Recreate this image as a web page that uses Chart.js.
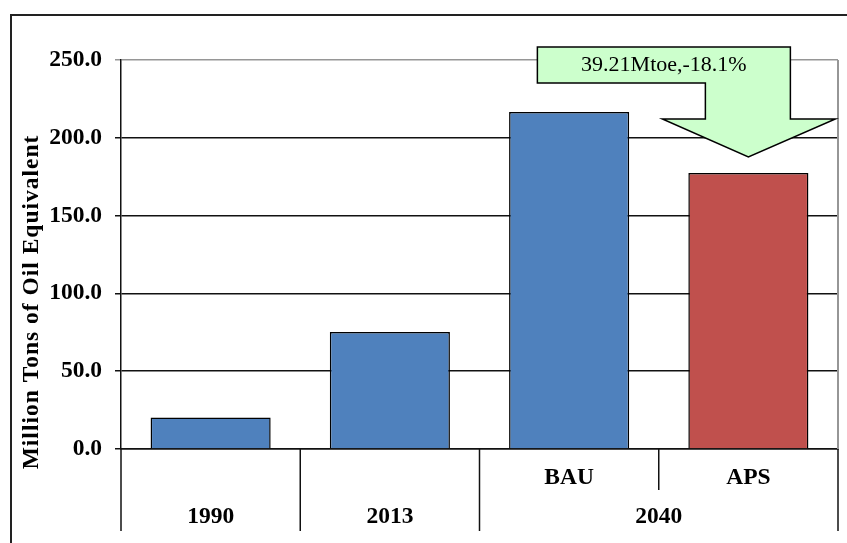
<!DOCTYPE html>
<html>
<head>
<meta charset="utf-8">
<script src="https://cdn.jsdelivr.net/npm/chart.js@4/dist/chart.umd.min.js"></script>
<style>
  html, body { margin: 0; padding: 0; background: #ffffff; }
  #wrap { width: 847px; height: 543px; }
</style>
</head>
<body>
<div id="wrap"><canvas id="chart" width="847" height="543"></canvas></div>
<script>
// Oil demand, million tons of oil equivalent
const years = ['1990', '2013', '2040', '2040'];
const scenarios = ['', '', 'BAU', 'APS'];
const consumption = [20.3, 75.2, 216.63, 177.42];
const barColors = ['#4F81BD', '#4F81BD', '#4F81BD', '#C0504D'];
const yTickValues = [0, 50, 100, 150, 200, 250];
const yTitle = 'Million Tons of Oil Equivalent';

const SERIF = '"Liberation Serif", "Times New Roman", serif';
const LABEL_SIZE = 23.5;

// Saving of APS against BAU in 2040
const saving = consumption[2] - consumption[3];
const savingPct = saving / consumption[2] * 100;
const savingLabel = saving.toFixed(2) + 'Mtoe,-' + savingPct.toFixed(1) + '%';

const framePlugin = {
  id: 'frame',
  beforeDraw(chart) {
    const ctx = chart.ctx;
    ctx.save();
    ctx.fillStyle = '#ffffff';
    ctx.fillRect(0, 0, chart.width, chart.height);
    ctx.strokeStyle = '#222222';
    ctx.lineWidth = 2;
    ctx.strokeRect(11, 15, chart.width + 20, chart.height + 20);
    ctx.restore();
  },
  afterDraw(chart) {
    const ctx = chart.ctx;
    const x = chart.scales.x;
    const y = chart.scales.y;
    const a = chart.chartArea;
    ctx.save();

    // right edge of the plot area
    ctx.strokeStyle = '#969696';
    ctx.lineWidth = 2;
    ctx.beginPath();
    ctx.moveTo(a.right, a.top);
    ctx.lineTo(a.right, a.bottom);
    ctx.stroke();

    // category dividers below the axis
    const n = years.length;
    const bounds = [];
    for (let i = 0; i <= n; i++) {
      let px;
      if (i === 0) px = a.left;
      else if (i === n) px = a.right;
      else px = (x.getPixelForValue(i - 1) + x.getPixelForValue(i)) / 2;
      const short = i > 0 && i < n && years[i - 1] === years[i];
      bounds.push({ px, short });
    }
    ctx.strokeStyle = '#111111';
    ctx.lineWidth = 1.5;
    bounds.forEach(b => {
      ctx.beginPath();
      ctx.moveTo(b.px, a.bottom);
      ctx.lineTo(b.px, b.short ? a.bottom + 41 : a.bottom + 82);
      ctx.stroke();
    });

    // year group labels
    ctx.fillStyle = '#000000';
    ctx.font = 'bold ' + LABEL_SIZE + 'px ' + SERIF;
    ctx.textAlign = 'center';
    ctx.textBaseline = 'middle';
    let start = 0;
    for (let i = 1; i <= n; i++) {
      if (i === n || years[i] !== years[start]) {
        const cx = (x.getPixelForValue(start) + x.getPixelForValue(i - 1)) / 2;
        ctx.fillText(years[start], cx, a.bottom + 68);
        start = i;
      }
    }

    // vertical axis title
    ctx.save();
    ctx.translate(32, 302);
    ctx.rotate(-Math.PI / 2);
    ctx.font = 'bold ' + LABEL_SIZE + 'px ' + SERIF;
    if ('letterSpacing' in ctx) ctx.letterSpacing = '1px';
    ctx.textAlign = 'center';
    ctx.textBaseline = 'middle';
    ctx.fillText(yTitle, 0, 0);
    ctx.restore();

    // arrow callout pointing at the APS bar
    const tipX = x.getPixelForValue(3);
    const tipY = y.getPixelForValue(consumption[3]) - 16;
    const pts = [
      [-211, -110], [42, -110], [42, -38], [87, -38],
      [0, 0], [-86, -38], [-43, -38], [-43, -74], [-211, -74]
    ];
    ctx.beginPath();
    pts.forEach((p, k) => {
      const px = tipX + p[0], py = tipY + p[1];
      if (k === 0) ctx.moveTo(px, py); else ctx.lineTo(px, py);
    });
    ctx.closePath();
    ctx.fillStyle = '#CCFFCC';
    ctx.fill();
    ctx.strokeStyle = '#000000';
    ctx.lineWidth = 1.5;
    ctx.stroke();

    ctx.fillStyle = '#000000';
    ctx.font = '22px ' + SERIF;
    ctx.textAlign = 'center';
    ctx.textBaseline = 'middle';
    ctx.fillText(savingLabel, tipX + (-211 + 42) / 2, tipY - 92);

    ctx.restore();
  }
};

new Chart(document.getElementById('chart'), {
  type: 'bar',
  data: {
    labels: scenarios.map((s, i) => years[i] + (s ? ' ' + s : '')),
    datasets: [{
      data: consumption,
      backgroundColor: barColors,
      borderColor: '#000000',
      borderWidth: 1.5,
      barPercentage: 1.0,
      categoryPercentage: 0.67
    }]
  },
  options: {
    responsive: false,
    animation: false,
    devicePixelRatio: 1,
    layout: { padding: { top: 60, right: 9, left: 0, bottom: 0 } },
    plugins: { legend: { display: false }, tooltip: { enabled: false } },
    scales: {
      x: {
        afterFit(scale) { scale.height = 94; },
        grid: { display: false, drawOnChartArea: false, drawTicks: false },
        border: { display: true, color: '#111111', width: 1.5 },
        ticks: {
          color: '#000000',
          font: { family: SERIF, size: LABEL_SIZE, weight: 'bold' },
          padding: 15,
          maxRotation: 0,
          autoSkip: false,
          callback: (v, i) => scenarios[i]
        }
      },
      y: {
        min: 0,
        max: 250,
        afterFit(scale) { scale.width = 121; },
        afterBuildTicks(scale) { scale.ticks = yTickValues.map(v => ({ value: v })); },
        grid: {
          color: ctx => (ctx.tick && ctx.tick.value === 250) ? '#969696' : '#111111',
          lineWidth: 1.5,
          tickLength: 6
        },
        border: { display: true, color: '#111111', width: 1.5 },
        ticks: {
          color: '#000000',
          font: { family: SERIF, size: LABEL_SIZE, weight: 'bold' },
          padding: 13,
          callback: v => Number(v).toFixed(1)
        }
      }
    }
  },
  plugins: [framePlugin]
});
</script>
</body>
</html>
